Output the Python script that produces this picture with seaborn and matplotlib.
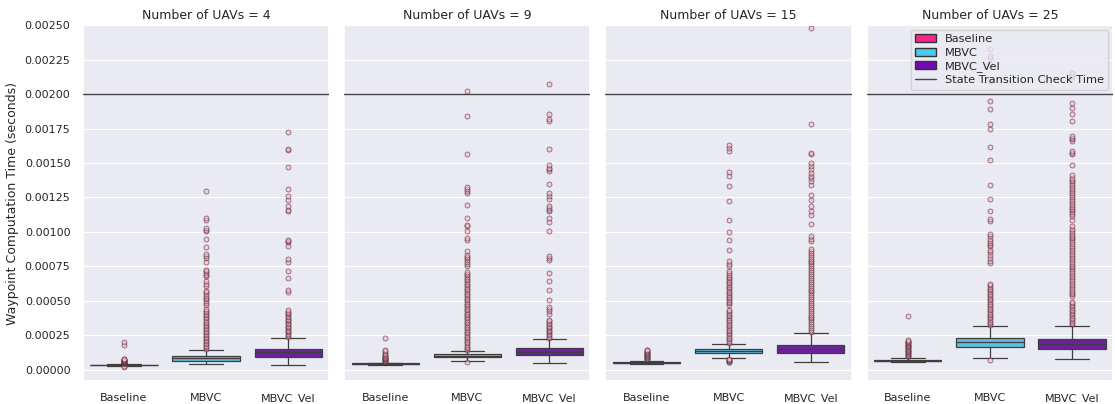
import numpy as np
import pandas as pd
import matplotlib
matplotlib.use("Agg")
import matplotlib.pyplot as plt
from matplotlib.patches import Patch
from matplotlib.lines import Line2D
from matplotlib.ticker import MultipleLocator, FormatStrFormatter
import seaborn as sns

# ---------------- data (values in microseconds) ----------------
uav_counts = [4, 9, 15, 25]
methods = ["Baseline", "MBVC", "MBVC_Vel"]
colors = ["#f72585", "#4cc9f0", "#7209b7"]
threshold = 0.002  # State Transition Check Time (s)

# box stats: (lower whisker, q1, median, q3, upper whisker)
stats_4_baseline = (30, 34, 36, 38, 42)
stats_4_mbvc = (41, 68, 85, 102, 145)
stats_4_vel = (39, 97, 128, 153, 232)
stats_9_baseline = (36, 40, 44, 47, 52)
stats_9_mbvc = (64, 92, 102, 112, 140)
stats_9_vel = (48, 109, 133, 157, 222)
stats_15_baseline = (43, 48, 53, 58, 66)
stats_15_mbvc = (86, 124, 138, 152, 190)
stats_15_vel = (58, 120, 150, 180, 265)
stats_25_baseline = (56, 62, 68, 75, 88)
stats_25_mbvc = (85, 169, 206, 230, 315)
stats_25_vel = (77, 152, 189, 222, 322)

# outliers
out_4_baseline = [24, 26, 47, 50, 53, 56, 59, 62, 65, 68, 71, 74, 77, 80, 181, 205]
out_4_mbvc = [155, 165, 175, 186, 197, 208, 219, 230, 241, 252, 263, 274, 285, 296,
              307, 318, 329, 340, 351, 362, 373, 384, 395, 406, 417, 428, 439,
              472, 485, 498, 511, 524, 537, 550, 563, 569, 605, 620, 642, 678, 690,
              702, 714, 726, 780, 811, 828, 843, 891, 949, 1005, 1017, 1029, 1085,
              1102, 1295]
out_4_vel = [242, 252, 262, 272, 282, 292, 302, 312, 322, 332, 342, 352, 362, 372,
             382, 392, 402, 412, 422, 436, 562, 576, 666, 714, 780, 804, 896, 926,
             935, 940, 1150, 1160, 1187, 1230, 1259, 1312, 1472, 1597, 1603, 1726]
out_9_baseline = [60, 64, 68, 72, 76, 80, 85, 90, 96, 103, 110, 118, 126, 135, 145, 230]
out_9_mbvc = [55, 145, 157, 169, 181, 193, 205, 217, 229, 241, 253, 265, 277, 289,
              301, 313, 325, 337, 349, 361, 373, 385, 397, 409, 421, 433, 445, 457,
              469, 481, 493, 505, 517, 529, 541, 553, 565, 577, 589, 601, 613, 625,
              637, 649, 661, 673, 685, 697, 707, 750, 765, 780, 795, 810, 822, 835,
              860, 944, 956, 1005, 1041, 1053, 1102, 1199, 1279, 1295, 1312, 1327,
              1567, 1840, 2022]
out_9_vel = [232, 242, 252, 262, 272, 282, 292, 302, 312, 322, 332, 342, 352, 363,
             407, 424, 441, 455, 508, 576, 646, 702, 794, 811, 823, 1005, 1070, 1102,
             1150, 1157, 1174, 1191, 1242, 1259, 1279, 1349, 1440, 1453, 1465, 1482,
             1605, 1804, 1816, 1852, 2074]
out_15_baseline = [76, 81, 86, 91, 96, 101, 106, 111, 116, 121, 126, 131, 136, 141, 145]
out_15_mbvc = [56, 61, 66, 70, 75, 79, 197, 209, 221, 233, 245, 257, 269, 281, 293,
               305, 317, 329, 341, 353, 365, 377, 389, 401, 413, 425, 436, 472, 484,
               496, 508, 520, 532, 544, 556, 568, 580, 592, 604, 616, 628, 640, 652,
               664, 676, 688, 700, 714, 750, 768, 787, 872, 940, 998, 1090, 1228,
               1332, 1409, 1433, 1586, 1610, 1627]
out_15_vel = [275, 289, 303, 317, 331, 345, 359, 373, 387, 401, 415, 429, 443, 457,
              471, 485, 499, 513, 527, 541, 555, 569, 583, 597, 611, 625, 639, 653,
              667, 681, 695, 709, 723, 737, 751, 765, 779, 793, 807, 821, 835, 849,
              863, 877, 932, 950, 968, 1061, 1126, 1150, 1187, 1235, 1271, 1344, 1368,
              1392, 1409, 1429, 1453, 1477, 1501, 1562, 1574, 1784, 2480]
out_25_baseline = [98, 104, 110, 116, 122, 128, 134, 140, 146, 152, 158, 164, 170,
                   176, 182, 188, 194, 200, 206, 212, 218, 392]
out_25_mbvc = [73, 325, 337, 349, 361, 373, 385, 397, 409, 421, 433, 445, 457, 469,
               481, 493, 505, 517, 529, 541, 553, 565, 577, 589, 601, 613, 625, 775,
               790, 811, 835, 855, 872, 896, 905, 920, 932, 950, 969, 988, 1077, 1095,
               1150, 1240, 1344, 1525, 1617, 1743, 1780, 1889, 1949, 2094, 2216, 2264,
               2276, 2324]
out_25_vel = [330, 342, 354, 366, 378, 390, 402, 414, 426, 438, 450, 462, 474, 486,
              496, 533, 547, 561, 575, 589, 603, 617, 631, 645, 659, 673, 687, 701,
              715, 729, 743, 757, 771, 785, 799, 813, 827, 841, 855, 869, 883, 897,
              911, 925, 939, 953, 967, 981, 995, 1009, 1023, 1041, 1085, 1114, 1128,
              1142, 1156, 1170, 1184, 1198, 1212, 1226, 1240, 1254, 1268, 1282, 1296,
              1310, 1324, 1338, 1352, 1366, 1380, 1394, 1416, 1489, 1562, 1574, 1586,
              1659, 1672, 1684, 1695, 1804, 1852, 1901, 1937, 2120, 2131, 2143, 2155]

boxes = {
    (4, "Baseline"): (stats_4_baseline, out_4_baseline),
    (4, "MBVC"): (stats_4_mbvc, out_4_mbvc),
    (4, "MBVC_Vel"): (stats_4_vel, out_4_vel),
    (9, "Baseline"): (stats_9_baseline, out_9_baseline),
    (9, "MBVC"): (stats_9_mbvc, out_9_mbvc),
    (9, "MBVC_Vel"): (stats_9_vel, out_9_vel),
    (15, "Baseline"): (stats_15_baseline, out_15_baseline),
    (15, "MBVC"): (stats_15_mbvc, out_15_mbvc),
    (15, "MBVC_Vel"): (stats_15_vel, out_15_vel),
    (25, "Baseline"): (stats_25_baseline, out_25_baseline),
    (25, "MBVC"): (stats_25_mbvc, out_25_mbvc),
    (25, "MBVC_Vel"): (stats_25_vel, out_25_vel),
}


def sample_for(stats, outliers):
    """Sample whose quartiles/whiskers equal the read box stats."""
    wlo, q1, med, q3, whi = stats
    low = [v for v in outliers if v < wlo]
    high = [v for v in outliers if v > whi]
    kl, kh = len(low), len(high)
    a = max(kl + 1, 2 * kh - kl + 1)
    b = a + kl - kh
    return low + [wlo] + [q1] * a + [med] + [q3] * b + [whi] + high


rows = []
for (n, m), (st, outs) in boxes.items():
    for v in sample_for(st, outs):
        rows.append({"Number of UAVs": n, "Method": m, "Time": v * 1e-6})
df = pd.DataFrame(rows)

# ---------------- plot ----------------
sns.set_theme(style="darkgrid", rc={"grid.linewidth": 0.8})
plt.rcParams["font.family"] = ["DejaVu Sans"]

fig, axes = plt.subplots(1, 4, sharey=True, figsize=(11.15, 4.04), dpi=100)
fig.subplots_adjust(left=0.0744, right=0.9982, top=0.938, bottom=0.057, wspace=0.061)

palette = dict(zip(methods, colors))
flierprops = dict(marker="o", markersize=3.6, markerfacecolor="#ffb0c0",
                  markeredgecolor="#301020", markeredgewidth=0.6, alpha=0.55)

for ax, n in zip(axes, uav_counts):
    sub = df[df["Number of UAVs"] == n]
    sns.boxplot(data=sub, x="Method", y="Time", hue="Method", order=methods,
                hue_order=methods, palette=palette, ax=ax, legend=False,
                width=0.82, linewidth=0.9, linecolor="#3f3f3f",
                flierprops=flierprops)
    ax.axhline(threshold, color="#444444", linewidth=1.0, zorder=3)
    ax.set_title(f"Number of UAVs = {n}", fontsize=9, pad=4)
    ax.set_xlabel("")
    ax.set_ylabel("")
    ax.tick_params(axis="both", labelsize=8, pad=3)

axes[0].set_ylim(-0.00008, 0.0025)
axes[0].yaxis.set_major_locator(MultipleLocator(0.00025))
axes[0].yaxis.set_major_formatter(FormatStrFormatter("%.5f"))
axes[0].set_ylabel("Waypoint Computation Time (seconds)", fontsize=9)

handles = [Patch(facecolor=c, edgecolor="#333333", label=m) for m, c in zip(methods, colors)]
handles.append(Line2D([0], [0], color="#444444", linewidth=1.0, label="State Transition Check Time"))
axes[3].legend(handles=handles, loc="upper right", fontsize=8.2, handlelength=1.8,
               borderaxespad=0.4, labelspacing=0.3)

fig.savefig("out.png", dpi=100)
